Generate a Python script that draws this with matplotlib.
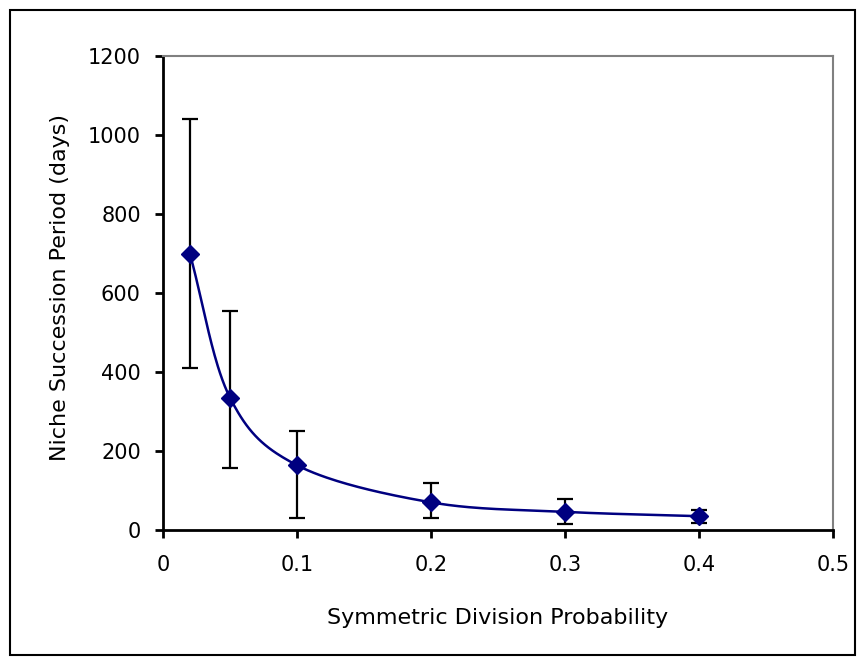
import numpy as np
import matplotlib
matplotlib.use('Agg')
import matplotlib.pyplot as plt
from matplotlib.patches import Rectangle

plt.rcParams['font.family'] = ['DejaVu Sans']

prob = [0.02, 0.05, 0.1, 0.2, 0.3, 0.4]
period = [700, 335, 164, 70, 46, 35]
err_low = [410, 157, 30, 30, 15, 18]
err_high = [1040, 554, 250, 119, 78, 50]


def smooth(xs, ys, n=40):
    # Catmull-Rom style curve through the points, like Excel's smoothed line
    xs = np.asarray(xs, float)
    ys = np.asarray(ys, float)
    px = np.concatenate([[2 * xs[0] - xs[1]], xs, [2 * xs[-1] - xs[-2]]])
    py = np.concatenate([[2 * ys[0] - ys[1]], ys, [2 * ys[-1] - ys[-2]]])
    out_x, out_y = [], []
    for i in range(1, len(px) - 2):
        t = np.linspace(0, 1, n)
        for p, out in ((px, out_x), (py, out_y)):
            p0, p1, p2, p3 = p[i - 1], p[i], p[i + 1], p[i + 2]
            b1 = p1 + (p2 - p0) / 6
            b2 = p2 - (p3 - p1) / 6
            out.extend((1 - t) ** 3 * p1 + 3 * (1 - t) ** 2 * t * b1
                       + 3 * (1 - t) * t ** 2 * b2 + t ** 3 * p2)
    return out_x, out_y


W, H = 864, 664
fig = plt.figure(figsize=(W / 100, H / 100), dpi=100)
fig.patches.append(Rectangle((10 / W, 9 / H), 845 / W, 645 / H,
                             transform=fig.transFigure, fill=False,
                             edgecolor='black', linewidth=1.5))

ax = fig.add_axes([163 / W, 1 - 530 / H, 670 / W, 474 / H])

yerr = [np.array(period) - np.array(err_low), np.array(err_high) - np.array(period)]
ax.errorbar(prob, period, yerr=yerr, fmt='none', ecolor='black',
            elinewidth=1.6, capsize=6, capthick=1.6, zorder=2)

sx, sy = smooth(prob, period)
ax.plot(sx, sy, color='#000080', linewidth=1.8, zorder=3)
ax.plot(prob, period, linestyle='none', marker='D', markersize=9.5,
        color='#000080', zorder=4)

ax.set_xlim(0, 0.5)
ax.set_ylim(0, 1200)
ax.set_xticks([0, 0.1, 0.2, 0.3, 0.4, 0.5])
ax.set_xticklabels(['0', '0.1', '0.2', '0.3', '0.4', '0.5'])
ax.set_yticks(range(0, 1201, 200))

for side in ('top', 'right'):
    ax.spines[side].set_color('#808080')
    ax.spines[side].set_linewidth(1.5)
for side in ('left', 'bottom'):
    ax.spines[side].set_color('black')
    ax.spines[side].set_linewidth(2)

ax.tick_params(direction='out', length=6, width=2, labelsize=15)
ax.tick_params(axis='x', pad=12)
ax.tick_params(axis='y', pad=10)

fig.text(498 / W, 1 - 618 / H, 'Symmetric Division Probability',
         fontsize=16, ha='center', va='center')
fig.text(60 / W, 1 - 287 / H, 'Niche Succession Period (days)',
         fontsize=16, ha='center', va='center', rotation=90)

fig.savefig('out.png', dpi=100)
